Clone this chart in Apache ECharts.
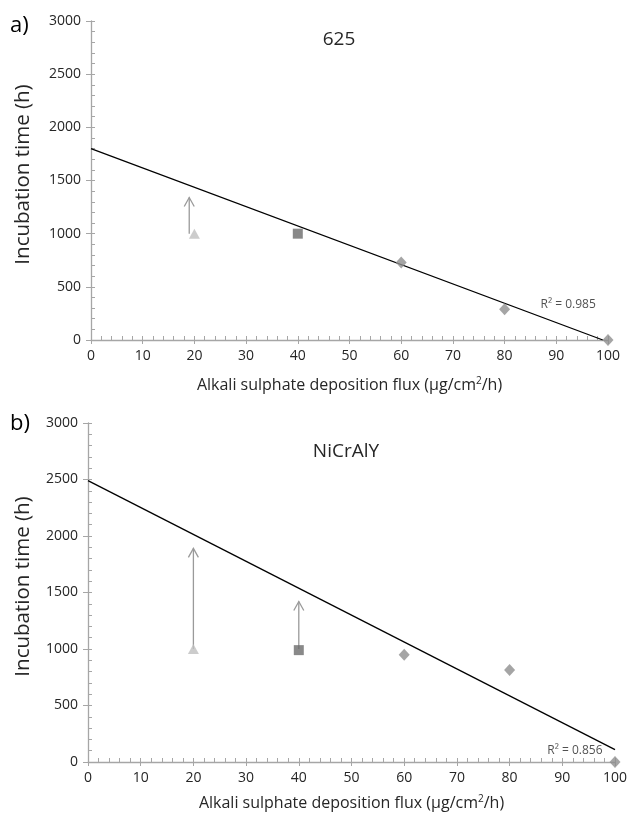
<!DOCTYPE html>
<html><head><meta charset="utf-8">
<script src="https://cdn.jsdelivr.net/npm/echarts@6/dist/echarts.min.js"></script>
<style>html,body{margin:0;padding:0;background:#fff}#c{width:630px;height:815px}</style>
</head><body><div id="c"></div>
<script>
// ---- data ----
const xTicks = [0,10,20,30,40,50,60,70,80,90,100];
const yTicks = [0,500,1000,1500,2000,2500,3000];
const titles = ['625','NiCrAlY'];
const panelLabels = ['a)','b)'];
const r2Labels = ['R² = 0.985','R² = 0.856'];
const r2PosA = [[92.3,330]];
const r2PosB = [[92.4,105]];

const triangleA = [[20,1000]];
const squareA = [[40,1000]];
const diamondA = [[60,730],[80,290],[100,0]];
const trendA = [[0,1800],[99,0]];
const arrowsA = [[19,1000,1340]]; // x, from, to

const triangleB = [[20,1000]];
const squareB = [[40,990]];
const diamondB = [[60,950],[80,815],[100,0]];
const trendB = [[0,2490],[100,110]];
const arrowsB = [[20,1000,1890],[40,1000,1420]];

const FONT = '"Open Sans", sans-serif';
const axisCol = '#a6a6a6';
const txtCol = '#262626';

function arrowRender(params, api){
  const p0 = api.coord([api.value(0), api.value(1)]);
  const p1 = api.coord([api.value(0), api.value(2)]);
  const st = {stroke:'#9a9a9a', lineWidth:1.3, fill:null};
  return {type:'group', children:[
    {type:'line', shape:{x1:p0[0],y1:p0[1],x2:p1[0],y2:p1[1]}, style:st},
    {type:'polyline', shape:{points:[[p1[0]-5,p1[1]+9],[p1[0],p1[1]],[p1[0]+5,p1[1]+9]]}, style:st}
  ]};
}

function mainX(gi){
  return {type:'value', gridIndex:gi, min:xTicks[0], max:xTicks[xTicks.length-1], interval:xTicks[1]-xTicks[0],
    axisLine:{lineStyle:{color:axisCol, width:1.3}},
    axisTick:{inside:true, length:4, lineStyle:{color:axisCol}},
    minorTick:{show:true, splitNumber:5, length:4, lineStyle:{color:axisCol}},
    splitLine:{show:false},
    axisLabel:{color:txtCol, fontFamily:FONT, fontSize:14, margin:9, formatter:v=>String(v)},
    name:'{a|Alkali sulphate deposition flux (μg/cm}{s|2}{a|/h)}',
    nameLocation:'middle', nameGap: gi===0?36:32,
    nameTextStyle:{rich:{a:{fontFamily:FONT, fontSize:16, color:txtCol}, s:{fontFamily:FONT, fontSize:10, color:txtCol, padding:[0,0,9,0]}}}
  };
}
function dupX(gi){
  return {type:'value', gridIndex:gi, min:xTicks[0], max:xTicks[xTicks.length-1], interval:xTicks[1]-xTicks[0], position:'bottom',
    axisLine:{show:false}, axisTick:{inside:false, length:4, lineStyle:{color:axisCol}},
    axisLabel:{show:false}, splitLine:{show:false}};
}
function mainY(gi){
  return {type:'value', gridIndex:gi, min:yTicks[0], max:yTicks[yTicks.length-1], interval:yTicks[1]-yTicks[0],
    axisLine:{show:true, lineStyle:{color:axisCol, width:1.3}},
    axisTick:{show:true, inside:true, length:4, lineStyle:{color:axisCol}},
    minorTick:{show:true, splitNumber:5, length:4, lineStyle:{color:axisCol}},
    splitLine:{show:false},
    axisLabel:{color:txtCol, fontFamily:FONT, fontSize:14, margin:10, formatter:v=>String(v)},
    name:'Incubation time (h)', nameLocation:'middle', nameGap: gi===0?57:54,
    nameTextStyle:{fontFamily:FONT, fontSize:20.5, color:txtCol, padding:[0,0,0,12]}
  };
}
function dupY(gi){
  return {type:'value', gridIndex:gi, min:yTicks[0], max:yTicks[yTicks.length-1], interval:yTicks[1]-yTicks[0], position:'left',
    axisLine:{show:false}, axisTick:{show:true, inside:false, length:5, lineStyle:{color:axisCol}},
    axisLabel:{show:false}, splitLine:{show:false}};
}

function panelSeries(gi, tri, sq, dia, trend, arrows, r2pos, r2txt){
  const xi = gi*2, yi = gi*2;
  return [
    {type:'line', xAxisIndex:xi, yAxisIndex:yi, data:trend, symbol:'none',
      lineStyle:{color:'#000', width:1.3}, z:3, silent:true},
    {type:'custom', xAxisIndex:xi, yAxisIndex:yi, data:arrows, renderItem:arrowRender, z:2},
    {type:'scatter', xAxisIndex:xi, yAxisIndex:yi, data:tri, symbol:'triangle', symbolSize:[11,10],
      itemStyle:{color:'#bfbfbf'}, z:4},
    {type:'scatter', xAxisIndex:xi, yAxisIndex:yi, data:sq, symbol:'rect', symbolSize:10,
      itemStyle:{color:'#6b6b6b'}, z:4},
    {type:'scatter', xAxisIndex:xi, yAxisIndex:yi, data:dia, symbol:'diamond', symbolSize:[11,12],
      itemStyle:{color:'#8f8f8f'}, z:4},
    {type:'scatter', xAxisIndex:xi, yAxisIndex:yi, data:r2pos, symbolSize:0, z:5,
      label:{show:true, position:'inside', formatter:r2txt, fontFamily:FONT, fontSize:12, color:txtCol}}
  ];
}

const chart = echarts.init(document.getElementById('c'), null, {renderer:'canvas'});
chart.setOption({
  backgroundColor:'#fff',
  animation:false,
  title:[
    {text:titles[0], left:334, top:35, textAlign:'center', textVerticalAlign:'middle',
      textStyle:{fontFamily:FONT, fontSize:19, fontWeight:'normal', color:txtCol}},
    {text:titles[1], left:341, top:447, textAlign:'center', textVerticalAlign:'middle',
      textStyle:{fontFamily:FONT, fontSize:19, fontWeight:'normal', color:txtCol}}
  ],
  graphic:[
    {type:'text', left:10, top:15, style:{text:panelLabels[0], font:'22px "Open Sans", sans-serif', fill:'#000'}},
    {type:'text', left:10, top:413, style:{text:panelLabels[1], font:'22px "Open Sans", sans-serif', fill:'#000'}}
  ],
  grid:[
    {left:91, top:21, width:517, height:319},
    {left:88, top:423, width:528, height:339}
  ],
  xAxis:[mainX(0), dupX(0), mainX(1), dupX(1)],
  yAxis:[mainY(0), dupY(0), mainY(1), dupY(1)],
  series:[
    ...panelSeries(0, triangleA, squareA, diamondA, trendA, arrowsA, r2PosA, r2Labels[0]),
    ...panelSeries(1, triangleB, squareB, diamondB, trendB, arrowsB, r2PosB, r2Labels[1])
  ]
});
</script></body></html>
